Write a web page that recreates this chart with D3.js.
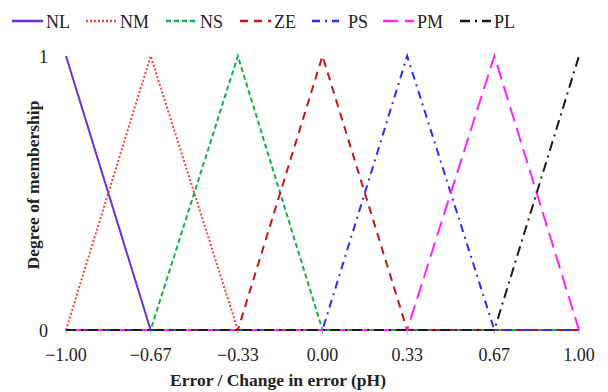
<!DOCTYPE html>
<html lang="en">
<head>
    <meta charset="UTF-8">
    <title>Membership functions</title>
    <style>
        body { margin: 0; background: #fff; }
        text { font-family: "Liberation Serif", "Times New Roman", serif; fill: #222; }
        .tick-label { font-size: 18px; }
        .axis-title { font-size: 17.5px; font-weight: bold; }
        .legend text { font-size: 18px; }
    </style>
</head>
<body>
    <div id="chart"></div>
    <script src="https://d3js.org/d3.v7.min.js"></script>
    <script>
        var names = ["NL", "NM", "NS", "ZE", "PS", "PM", "PL"];
        var peaks = [-1.00, -0.67, -0.33, 0.00, 0.33, 0.67, 1.00];
        var xTicks = [-1.00, -0.67, -0.33, 0.00, 0.33, 0.67, 1.00];
        var yTicks = [0, 1];
        var colors = ["#6b2fd6", "#ff3b3b", "#12b04e", "#c41616", "#2b2bff", "#ff22ff", "#1a1a1a"];
        var dashes = ["none", "2,2", "5,3", "8,6", "8,5,2,5", "15,7", "10,5,2,5"];

        var width = 608, height = 392;
        var x = d3.scaleLinear().domain([-1, 1]).range([66, 579]);
        var y = d3.scaleLinear().domain([0, 1]).range([330, 56]);

        var svg = d3.select("#chart").append("svg")
            .attr("width", width)
            .attr("height", height);

        // axis line and small ticks
        svg.append("line")
            .attr("x1", x(-1)).attr("x2", x(1))
            .attr("y1", y(0)).attr("y2", y(0))
            .attr("stroke", "#777").attr("stroke-width", 2);
        svg.append("g").selectAll("line")
            .data(xTicks)
            .enter().append("line")
            .attr("x1", function(d) { return x(d); })
            .attr("x2", function(d) { return x(d); })
            .attr("y1", y(0)).attr("y2", y(0) + 4)
            .attr("stroke", "#aaa").attr("stroke-width", 1);

        // triangle for each set, zero elsewhere on [-1, 1]
        var series = names.map(function(n, i) {
            var pts = [];
            var left = i > 0 ? peaks[i - 1] : null;
            var right = i < peaks.length - 1 ? peaks[i + 1] : null;
            if (left !== null) { pts.push([-1, 0]); pts.push([left, 0]); }
            pts.push([peaks[i], 1]);
            if (right !== null) { pts.push([right, 0]); pts.push([1, 0]); }
            return { name: n, points: pts, color: colors[i], dash: dashes[i] };
        });

        var line = d3.line()
            .x(function(d) { return x(d[0]); })
            .y(function(d) { return y(d[1]); });

        svg.append("g").selectAll("path")
            .data(series)
            .enter().append("path")
            .attr("d", function(d) { return line(d.points); })
            .attr("fill", "none")
            .attr("stroke", function(d) { return d.color; })
            .attr("stroke-width", 2)
            .attr("stroke-dasharray", function(d) { return d.dash; });

        // x tick labels
        svg.append("g").selectAll("text")
            .data(xTicks)
            .enter().append("text")
            .attr("class", "tick-label")
            .attr("x", function(d) { return x(d); })
            .attr("y", 361)
            .attr("text-anchor", "middle")
            .text(function(d) { return d3.format(".2f")(d); });

        // y tick labels
        svg.append("g").selectAll("text")
            .data(yTicks)
            .enter().append("text")
            .attr("class", "tick-label")
            .attr("x", 48)
            .attr("y", function(d) { return y(d) + 7; })
            .attr("text-anchor", "end")
            .text(function(d) { return d; });

        svg.append("text")
            .attr("class", "axis-title")
            .attr("x", 278)
            .attr("y", 386)
            .attr("text-anchor", "middle")
            .text("Error / Change in error (pH)");

        svg.append("text")
            .attr("class", "axis-title")
            .attr("transform", "translate(39,185) rotate(-90)")
            .attr("text-anchor", "middle")
            .text("Degree of membership");

        // legend
        var legendX = [12, 86, 166, 240, 312, 383, 460];
        var leg = svg.append("g").attr("class", "legend")
            .selectAll("g")
            .data(series)
            .enter().append("g")
            .attr("transform", function(d, i) { return "translate(" + legendX[i] + ",21)"; });

        leg.append("line")
            .attr("x1", 0).attr("x2", function(d, i) { return i === 4 ? 27 : 31; })
            .attr("stroke", function(d) { return d.color; })
            .attr("stroke-width", 2.5)
            .attr("stroke-dasharray", function(d) { return d.dash; });

        leg.append("text")
            .attr("x", function(d, i) { return i === 4 ? 36 : 34; })
            .attr("y", 7)
            .text(function(d) { return d.name; });
    </script>
</body>
</html>
